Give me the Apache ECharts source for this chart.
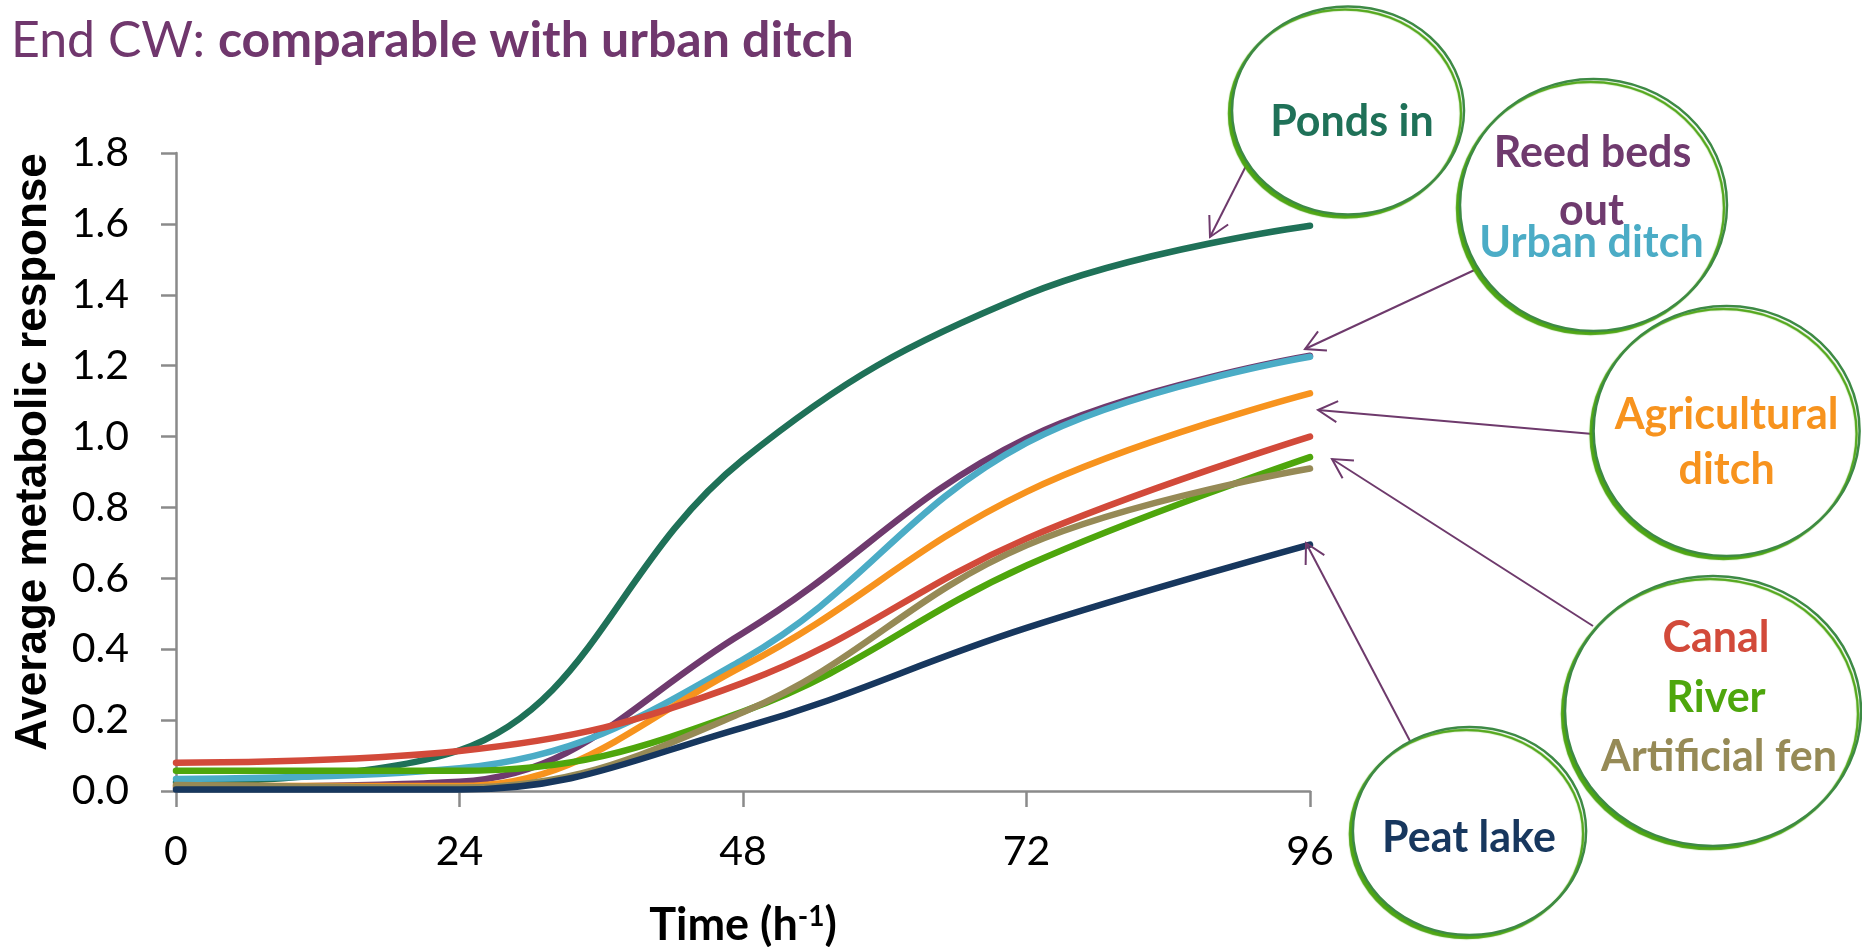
<!DOCTYPE html>
<html>
<head>
<meta charset="utf-8">
<script src="https://cdn.jsdelivr.net/npm/echarts@6/dist/echarts.min.js"></script>
<style>
  html, body { margin: 0; padding: 0; background: #ffffff; }
  #chart { width: 1862px; height: 947px; }
</style>
</head>
<body>
<div id="chart"></div>
<script>
// Sampling times (hours) and x-axis ticks
const hours = [0, 24, 48, 72, 96];

// Average metabolic response per site
const pondsIn        = [0.025, 0.115, 0.935, 1.400, 1.595];
const reedBedsOut    = [0.010, 0.026, 0.446, 0.995, 1.228];
const urbanDitch     = [0.034, 0.064, 0.371, 0.982, 1.225];
const agricultural   = [0.015, 0.014, 0.352, 0.844, 1.122];
const canal          = [0.080, 0.113, 0.305, 0.712, 1.000];
const river          = [0.057, 0.057, 0.224, 0.636, 0.942];
const artificialFen  = [0.017, 0.010, 0.222, 0.693, 0.910];
const peatLake       = [0.004, 0.004, 0.179, 0.460, 0.695];

const siteNames = ['Ponds in', 'Reed beds out', 'Urban ditch', 'Agricultural ditch',
                   'Canal', 'River', 'Artificial fen', 'Peat lake'];
const siteValues = [pondsIn, reedBedsOut, urbanDitch, agricultural,
                    canal, river, artificialFen, peatLake];

// Line colours
const siteColors = ['#1f7158', '#6f3a6e', '#4bacc6', '#f7931e',
                    '#d24a3a', '#4ea60c', '#968a56', '#17375e'];

const FONT = 'Lato, "Open Sans", sans-serif';
const ARROW = '#6e3a6c';

const chart = echarts.init(document.getElementById('chart'), null, { renderer: 'canvas' });

const series = siteNames.map((name, i) => ({
  name: name,
  type: 'line',
  smooth: 0.4,
  showSymbol: false,
  symbol: 'none',
  data: hours.map((h, k) => [h, siteValues[i][k]]),
  lineStyle: { width: 6.5, color: siteColors[i], cap: 'round', join: 'round' },
  itemStyle: { color: siteColors[i] },
  z: 2 + i
}));

// Arrow from a callout bubble to the line it names
function arrow(x1, y1, x2, y2) {
  const ang = Math.atan2(y1 - y2, x1 - x2);
  const len = 22, spread = 0.5;
  const a1 = [x2 + len * Math.cos(ang + spread), y2 + len * Math.sin(ang + spread)];
  const a2 = [x2 + len * Math.cos(ang - spread), y2 + len * Math.sin(ang - spread)];
  return [
    { type: 'line', z: 10, shape: { x1, y1, x2, y2 }, style: { stroke: ARROW, lineWidth: 2 } },
    { type: 'polyline', z: 10, shape: { points: [a1, [x2, y2], a2] },
      style: { stroke: ARROW, lineWidth: 2, fill: null } }
  ];
}

// Callout bubble with a brush-like green outline
function bubble(cx, cy, rx, ry) {
  return {
    type: 'ellipse', z: 11,
    shape: { cx, cy, rx, ry },
    style: {
      fill: '#ffffff', stroke: '#3d8a45', lineWidth: 2.5,
      shadowColor: '#4ea514', shadowBlur: 1, shadowOffsetX: -3, shadowOffsetY: 3
    }
  };
}

function label(text, x, y, color) {
  return {
    type: 'text', z: 12, x, y,
    style: {
      text, fill: color, fontFamily: FONT, fontWeight: 'bold', fontSize: 43,
      align: 'center', verticalAlign: 'middle'
    }
  };
}

const graphics = [].concat(
  arrow(1249, 160, 1210, 237),
  arrow(1481, 267, 1305, 349),
  arrow(1593, 434, 1318, 410),
  arrow(1593, 626, 1332, 459),
  arrow(1410, 741, 1306, 543),
  [
    bubble(1348, 110.5, 116, 104),
    bubble(1593.5, 205, 133.5, 126),
    bubble(1726.6, 431, 133, 125),
    bubble(1713, 711, 148, 135),
    bubble(1469.5, 831, 116.6, 104),
    label('Ponds in', 1352, 122, siteColors[0]),
    label('Reed beds', 1592.6, 153.5, siteColors[1]),
    label('out', 1591.5, 211, siteColors[1]),
    label('Urban ditch', 1591.5, 243, siteColors[2]),
    label('Agricultural', 1726.6, 415, siteColors[3]),
    label('ditch', 1726.6, 470, siteColors[3]),
    label('Canal', 1716, 638, siteColors[4]),
    label('River', 1716, 698, siteColors[5]),
    label('Artificial fen', 1719, 757.5, siteColors[6]),
    label('Peat lake', 1469, 838, siteColors[7])
  ]
);

const axisGray = '#8a8a8a';

chart.setOption({
  animation: false,
  backgroundColor: '#ffffff',
  title: {
    text: '{a|End CW: }{b|comparable with urban ditch}',
    left: 6, top: 11,
    textStyle: {
      rich: {
        a: { fontFamily: FONT, fontSize: 50, fontWeight: 'normal', color: '#70376d' },
        b: { fontFamily: FONT, fontSize: 50, fontWeight: 'bold', color: '#70376d' }
      }
    }
  },
  grid: { left: 176, right: 552, top: 153, bottom: 156, containLabel: false, outerBoundsMode: 'none' },
  xAxis: {
    type: 'value',
    min: 0, max: 96, interval: 24,
    name: 'Time (h{sup|-1})',
    nameLocation: 'middle',
    nameGap: 112,
    nameTextStyle: {
      fontFamily: FONT, fontWeight: 'bold', fontSize: 45, color: '#000000',
      rich: {
        sup: { fontFamily: FONT, fontWeight: 'bold', fontSize: 28, color: '#000000',
               verticalAlign: 'top', padding: [0, 0, 15, 0] }
      }
    },
    splitLine: { show: false },
    axisLine: { onZero: false, lineStyle: { color: axisGray, width: 2.5 } },
    axisTick: { show: true, inside: false, length: 16, lineStyle: { color: axisGray, width: 2.5 } },
    axisLabel: { fontFamily: FONT, fontSize: 41, color: '#000000', margin: 40 }
  },
  yAxis: {
    type: 'value',
    min: 0, max: 1.8, interval: 0.2,
    name: 'Average metabolic response',
    nameLocation: 'middle',
    nameGap: 120,
    nameTextStyle: {
      fontFamily: '"Liberation Sans", Arial, sans-serif', fontWeight: 'bold',
      fontSize: 44, color: '#000000', padding: [0, 0, 0, 40]
    },
    splitLine: { show: false },
    axisLine: { show: true, lineStyle: { color: axisGray, width: 2.5 } },
    axisTick: { show: true, inside: false, length: 15, lineStyle: { color: axisGray, width: 2.5 } },
    axisLabel: {
      fontFamily: FONT, fontSize: 41, color: '#000000', margin: 47,
      formatter: v => v.toFixed(1)
    }
  },
  series: series,
  graphic: { elements: graphics }
});
</script>
</body>
</html>
